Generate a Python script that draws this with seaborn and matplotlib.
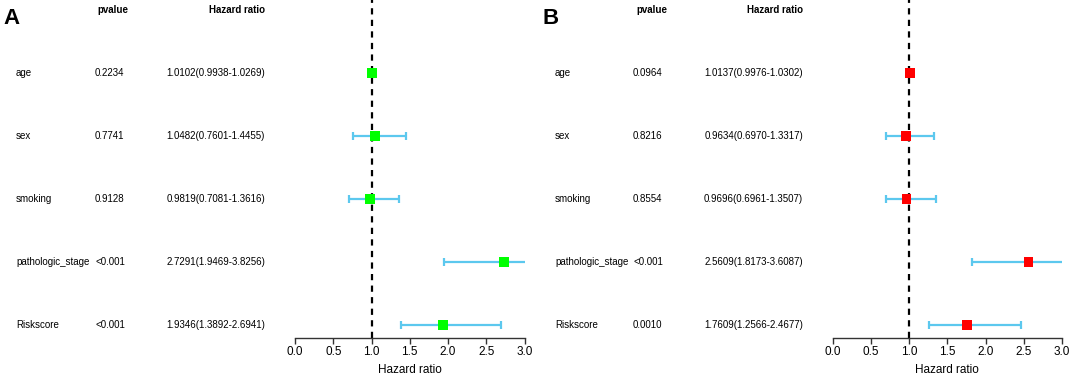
"""
Forest plots (multivariate Cox) for two cohorts, panels A and B.
"""
import numpy as np
import pandas as pd
import matplotlib
matplotlib.use('Agg')
import matplotlib.pyplot as plt
import matplotlib.transforms as mtransforms
import seaborn as sns

VARIABLES = ['age', 'sex', 'smoking', 'pathologic_stage', 'Riskscore']

P_A = ['0.2234', '0.7741', '0.9128', '<0.001', '<0.001']
HR_A = [1.0102, 1.0482, 0.9819, 2.7291, 1.9346]
LO_A = [0.9938, 0.7601, 0.7081, 1.9469, 1.3892]
HI_A = [1.0269, 1.4455, 1.3616, 3.8256, 2.6941]

P_B = ['0.0964', '0.8216', '0.8554', '<0.001', '0.0010']
HR_B = [1.0137, 0.9634, 0.9696, 2.5609, 1.7609]
LO_B = [0.9976, 0.6970, 0.6961, 1.8173, 1.2566]
HI_B = [1.0302, 1.3317, 1.3507, 3.6087, 2.4677]

XTICKS = [0.0, 0.5, 1.0, 1.5, 2.0, 2.5, 3.0]
XMAX = 3.0

W, H = 1072, 380
CI_COLOR = '#5cc8ee'

sns.set_theme(style='white')
plt.rcParams['font.family'] = ['Liberation Sans', 'DejaVu Sans']
plt.rcParams['text.color'] = 'black'
plt.rcParams['axes.labelcolor'] = 'black'
plt.rcParams['xtick.color'] = 'black'


def px(x):
    return x / W


def draw_panel(fig, letter, p, hr, lo, hi, square_color, x0, cols):
    """cols: (label_left, pvalue_left, pheader_left, hr_right) in pixels"""
    ax = fig.add_axes([px(x0), (H - 338) / H, px(229.5), 338 / H])
    df = pd.DataFrame({'var': VARIABLES, 'row': np.arange(len(VARIABLES)),
                       'hr': hr, 'lo': lo, 'hi': hi})
    df['hi_clip'] = df['hi'].clip(upper=XMAX)

    ax.axvline(1.0, color='black', lw=1.6, dashes=(2.8, 2.4), zorder=1)
    ax.hlines(df['row'], df['lo'], df['hi_clip'], color=CI_COLOR, lw=1.6,
              zorder=2, clip_on=False)
    cap = 0.065
    ax.vlines(df['lo'], df['row'] - cap, df['row'] + cap, color=CI_COLOR,
              lw=1.6, zorder=2, clip_on=False)
    inside = df[df['hi'] <= XMAX]
    ax.vlines(inside['hi'], inside['row'] - cap, inside['row'] + cap,
              color=CI_COLOR, lw=1.6, zorder=2, clip_on=False)
    sns.scatterplot(data=df, x='hr', y='row', marker='s', s=48,
                    color=square_color, edgecolor='none', ax=ax, zorder=3,
                    clip_on=False, legend=False)

    ax.set_xlim(0, XMAX)
    ax.set_ylim(4.206, -1.159)
    ax.set_yticks([])
    ax.set_ylabel('')
    for s in ['top', 'left', 'right']:
        ax.spines[s].set_visible(False)
    ax.spines['bottom'].set_color('#333333')
    ax.spines['bottom'].set_linewidth(1.0)
    ax.spines['bottom'].set_bounds(0, XMAX)
    ax.set_xticks(XTICKS)
    ax.set_xticklabels([f'{t:.1f}' for t in XTICKS])
    ax.tick_params(axis='x', direction='out', length=4, width=1.0,
                   color='#333333', pad=2, labelsize=8.5, bottom=True)
    ax.set_xlabel('Hazard ratio', fontsize=8.5, labelpad=4)

    # table columns
    tr = mtransforms.blended_transform_factory(fig.transFigure, ax.transData)
    lab_x, p_x, ph_x, hr_x = cols
    for i, v in enumerate(VARIABLES):
        ax.text(px(lab_x), i, v, transform=tr, fontsize=7, ha='left', va='center')
        ax.text(px(p_x), i, p[i], transform=tr, fontsize=7, ha='left', va='center')
        ax.text(px(hr_x), i, f'{hr[i]:.4f}({lo[i]:.4f}-{hi[i]:.4f})',
                transform=tr, fontsize=7, ha='right', va='center')
    ax.text(px(ph_x), -1.0, 'pvalue', transform=tr, fontsize=7,
            fontweight='bold', ha='left', va='center')
    ax.text(px(hr_x), -1.0, 'Hazard ratio', transform=tr, fontsize=7,
            fontweight='bold', ha='right', va='center')
    fig.text(px(cols[0] - 13), 1 - 18 / H, letter, fontsize=16,
             fontweight='bold', ha='left', va='center')
    return ax


fig = plt.figure(figsize=(W / 100, H / 100), dpi=100)
draw_panel(fig, 'A', P_A, HR_A, LO_A, HI_A, '#00ff00', 295,
           (16, 95, 97, 265))
draw_panel(fig, 'B', P_B, HR_B, LO_B, HI_B, '#ff0000', 832.5,
           (555, 633, 636, 803))
fig.savefig('out.png', dpi=100)
